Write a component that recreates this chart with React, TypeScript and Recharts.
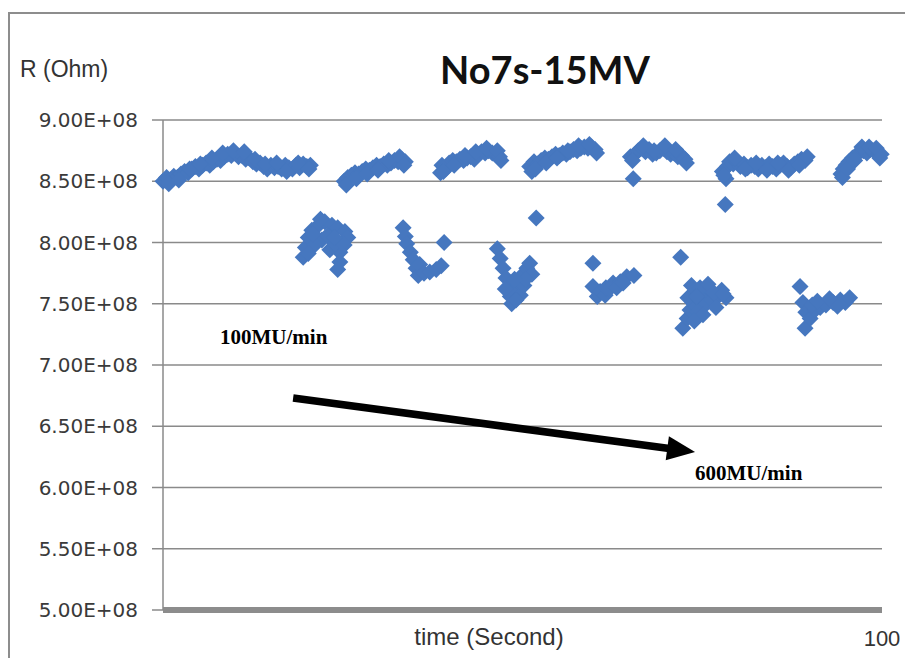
import React from 'react';
import { ScatterChart, Scatter, XAxis, YAxis, CartesianGrid, ReferenceLine } from 'recharts';

// Resistance samples: [time (s), R in units of 1E+08 Ohm]
type Sample = [number, number];

const upperBand: Sample[] = [
  [0.0, 8.50], [0.5, 8.53], [1.0, 8.51], [1.5, 8.54], [2.0, 8.53], [2.5, 8.56], [3.0, 8.58], [3.5, 8.57],
  [4.0, 8.60], [4.5, 8.62], [5.0, 8.60], [5.5, 8.63], [6.0, 8.65], [6.5, 8.63], [7.0, 8.66], [7.5, 8.68],
  [8.0, 8.67], [8.5, 8.70], [9.0, 8.72], [9.5, 8.71], [10.0, 8.73], [10.5, 8.70], [11.0, 8.71], [11.5, 8.68],
  [12.0, 8.69], [12.5, 8.66], [13.0, 8.64], [13.5, 8.65], [14.0, 8.62], [14.5, 8.60], [15.0, 8.63], [15.5, 8.61],
  [16.0, 8.62], [16.5, 8.60], [17.0, 8.63], [17.5, 8.61], [18.0, 8.60], [18.5, 8.63], [19.0, 8.61], [19.5, 8.64],
  [20.0, 8.62], [20.5, 8.63],
  [25.2, 8.50], [25.7, 8.53], [26.2, 8.55], [26.7, 8.57], [27.2, 8.56], [27.7, 8.58], [28.2, 8.60], [28.7, 8.59],
  [29.2, 8.61], [29.7, 8.63], [30.2, 8.62], [30.7, 8.64], [31.2, 8.63], [31.7, 8.65], [32.2, 8.67], [32.7, 8.66],
  [33.2, 8.68], [33.7, 8.66],
  [38.6, 8.57], [38.8, 8.63], [39.3, 8.60], [39.8, 8.65], [40.3, 8.67], [40.8, 8.66], [41.3, 8.68], [41.8, 8.67],
  [42.3, 8.69], [42.8, 8.70], [43.3, 8.68], [43.8, 8.72], [44.3, 8.74], [44.8, 8.73], [45.3, 8.75], [45.8, 8.73],
  [46.3, 8.72], [46.8, 8.70],
  [51.0, 8.62], [51.3, 8.58], [51.6, 8.66], [52.1, 8.64], [52.6, 8.67], [53.1, 8.69], [53.6, 8.68], [54.1, 8.70],
  [54.6, 8.72], [55.1, 8.71], [55.6, 8.73], [56.1, 8.72], [56.6, 8.74], [57.1, 8.76], [57.6, 8.75], [58.1, 8.77],
  [58.6, 8.78], [59.1, 8.77], [59.6, 8.78], [60.1, 8.76],
  [65.0, 8.70], [65.6, 8.72], [66.1, 8.75], [66.6, 8.77], [67.1, 8.74], [67.6, 8.76], [68.1, 8.72], [68.6, 8.73],
  [69.1, 8.75], [69.6, 8.77], [70.1, 8.74], [70.6, 8.72], [71.1, 8.73], [71.6, 8.70], [72.1, 8.71], [72.6, 8.68],
  [77.8, 8.58], [78.3, 8.52], [78.5, 8.62], [78.8, 8.66], [79.3, 8.64], [79.8, 8.66], [80.3, 8.62], [80.8, 8.64],
  [81.3, 8.61], [81.8, 8.63], [82.3, 8.62], [82.8, 8.60], [83.3, 8.63], [83.8, 8.61], [84.3, 8.64], [84.8, 8.62],
  [85.3, 8.60], [85.8, 8.63], [86.3, 8.65], [86.8, 8.62], [87.3, 8.61], [87.8, 8.64], [88.3, 8.66], [88.8, 8.68],
  [89.3, 8.67],
  [94.3, 8.56], [94.6, 8.60], [95.0, 8.63], [95.4, 8.66], [95.9, 8.69], [96.4, 8.71], [96.9, 8.74], [97.4, 8.75],
  [97.9, 8.73], [98.4, 8.76], [98.9, 8.75], [99.4, 8.74], [99.9, 8.72],
];

// Secondary readings that widen the upper band
const upperScatter: Sample[] = [
  [0.8, 8.48], [2.2, 8.51], [3.7, 8.60], [5.2, 8.64], [6.8, 8.69], [8.3, 8.73], [9.8, 8.75], [11.3, 8.74],
  [12.8, 8.68], [14.2, 8.64], [15.8, 8.65], [17.2, 8.58], [18.8, 8.65], [20.3, 8.60],
  [25.5, 8.47], [26.9, 8.52], [28.4, 8.56], [29.9, 8.59], [31.4, 8.67], [32.9, 8.70], [33.5, 8.63],
  [39.0, 8.58], [40.5, 8.63], [42.0, 8.71], [43.5, 8.74], [45.0, 8.77], [46.5, 8.75], [47.0, 8.67],
  [51.8, 8.60], [53.3, 8.65], [54.8, 8.69], [56.3, 8.75], [57.8, 8.79], [59.3, 8.80], [60.3, 8.73],
  [65.3, 8.67], [66.8, 8.79], [68.3, 8.75], [69.8, 8.79], [71.3, 8.76], [72.8, 8.65],
  [78.0, 8.55], [79.5, 8.69], [81.0, 8.60], [82.5, 8.65], [84.0, 8.59], [85.5, 8.65], [87.0, 8.59], [88.5, 8.63],
  [89.6, 8.70],
  [94.5, 8.53], [95.2, 8.60], [96.2, 8.67], [97.2, 8.78], [98.2, 8.78], [99.2, 8.77], [99.7, 8.69],
];

const lowerBand: Sample[] = [
  [19.5, 7.88], [19.8, 7.96], [20.2, 8.04], [20.7, 8.10], [21.6, 8.14], [22.5, 8.17], [23.5, 8.14], [24.3, 8.12],
  [25.3, 8.09], [25.7, 8.04], [25.2, 7.98], [24.6, 7.92], [24.6, 7.84], [24.3, 7.78], [23.2, 7.94], [22.1, 8.02],
  [21.1, 7.98], [20.2, 7.91], [22.9, 8.06], [23.9, 7.99], [21.9, 8.19], [24.9, 8.00], [20.9, 8.07], [23.8, 8.04],
  [33.4, 8.12], [33.7, 8.05], [33.9, 7.99], [34.4, 7.92], [34.8, 7.86], [35.2, 7.79], [35.5, 7.73], [35.7, 7.82],
  [36.3, 7.75], [37.1, 7.76], [38.0, 7.78], [38.7, 7.81],
  [46.5, 7.95], [46.9, 7.87], [47.3, 7.79], [47.7, 7.71], [48.0, 7.63], [48.3, 7.56], [48.5, 7.50], [48.8, 7.61],
  [49.4, 7.68], [49.7, 7.57], [49.9, 7.73], [50.6, 7.79], [51.0, 7.83], [51.3, 7.74], [50.2, 7.65],
  [49.1, 7.53], [50.4, 7.70], [47.6, 7.62], [48.9, 7.70],
  [59.8, 7.64], [60.4, 7.56], [60.8, 7.60], [61.5, 7.57], [61.6, 7.63], [62.6, 7.67], [63.6, 7.68], [64.5, 7.72],
  [65.5, 7.73], [62.1, 7.62], [63.1, 7.63], [64.0, 7.67],
  [72.3, 7.30], [72.9, 7.38], [73.3, 7.45], [73.7, 7.51], [73.0, 7.55], [74.0, 7.60], [74.7, 7.53], [75.4, 7.57],
  [76.1, 7.61], [75.4, 7.49], [76.4, 7.53], [77.2, 7.56], [77.7, 7.61], [78.3, 7.55], [76.9, 7.47], [74.4, 7.43],
  [73.5, 7.65], [74.7, 7.63], [75.8, 7.66], [75.1, 7.41], [76.6, 7.59], [74.2, 7.56], [77.9, 7.58], [73.9, 7.36],
  [89.0, 7.51], [89.4, 7.43], [89.3, 7.30], [90.0, 7.38], [90.7, 7.45], [91.4, 7.47], [92.2, 7.49], [93.2, 7.51],
  [94.2, 7.53], [94.9, 7.51], [95.5, 7.55], [90.3, 7.49], [91.0, 7.52], [93.8, 7.48], [92.7, 7.54],
];

const strayPoints: Sample[] = [
  [51.9, 8.20], [65.4, 8.52], [78.2, 8.31], [39.1, 8.00], [59.8, 7.83], [72.0, 7.88], [88.6, 7.64],
];

const yTicks = [5, 5.5, 6, 6.5, 7, 7.5, 8, 8.5, 9];
const xTicks = [100];

// Dose-rate trend arrow: from 100MU/min to 600MU/min
const trendStart = { t: 18.1, r: 6.73 };
const trendEnd = { t: 74.0, r: 6.29 };

const BLUE = '#4677bf';
const GRID = '#8a8a8a';

const toPoints = (rows: Sample[]) => rows.map(([t, r]) => ({ t, r }));
const samples = [
  ...toPoints(upperBand),
  ...toPoints(upperScatter),
  ...toPoints(lowerBand),
  ...toPoints(strayPoints),
];

const Diamond = (props: any) => {
  const { cx, cy } = props;
  if (cx == null || cy == null) return null;
  const s = 8.5;
  return <path d={`M${cx},${cy - s}L${cx + s},${cy}L${cx},${cy + s}L${cx - s},${cy}Z`} fill={BLUE} />;
};

const Arrow = (props: any) => {
  const { x1, y1, x2, y2 } = props;
  if ([x1, y1, x2, y2].some((v) => v == null)) return null;
  const dx = x2 - x1;
  const dy = y2 - y1;
  const len = Math.hypot(dx, dy);
  const ux = dx / len;
  const uy = dy / len;
  const head = 28;
  const half = 12;
  const bx = x2 - ux * head;
  const by = y2 - uy * head;
  return (
    <g>
      <line x1={x1} y1={y1} x2={bx + ux * 2} y2={by + uy * 2} stroke="#000" strokeWidth={7.5} />
      <polygon
        points={`${x2},${y2} ${bx - uy * half},${by + ux * half} ${bx + uy * half},${by - ux * half}`}
        fill="#000"
      />
    </g>
  );
};

const fmtTick = (v: number) => `${v.toFixed(2)}E+08`;

export default function App() {
  return (
    <div style={{ position: 'fixed', left: 0, top: 0, width: 905, height: 658, overflow: 'hidden', background: '#fff' }}>
      <div
        style={{
          position: 'absolute', left: 8, top: 12, width: 1000, height: 1000,
          borderLeft: '2px solid #8d8d8d', borderTop: '2px solid #8d8d8d', boxSizing: 'border-box',
        }}
      />
      <ScatterChart width={905} height={658} margin={{ top: 120, right: 23, bottom: 0, left: 43 }}>
        <CartesianGrid vertical={false} stroke={GRID} strokeWidth={1.5} />
        <XAxis
          dataKey="t"
          type="number"
          domain={[0, 100]}
          ticks={xTicks}
          tickLine={false}
          tickSize={8}
          tickMargin={12}
          height={48}
          axisLine={{ stroke: '#8c8c8c', strokeWidth: 6 }}
          tick={{ fontSize: 22, fontFamily: 'Liberation Sans', fill: '#333' }}
        />
        <YAxis
          dataKey="r"
          type="number"
          domain={[5, 9]}
          ticks={yTicks}
          tickFormatter={fmtTick}
          width={120}
          tickSize={11}
          tickMargin={14}
          axisLine={{ stroke: GRID, strokeWidth: 1.5 }}
          tickLine={{ stroke: GRID, strokeWidth: 1.5 }}
          tick={{ fontSize: 20, fontFamily: 'DejaVu Sans', fill: '#3a3a3a' }}
        />
        <Scatter data={samples} shape={Diamond} isAnimationActive={false} />
        <ReferenceLine
          segment={[{ x: trendStart.t, y: trendStart.r }, { x: trendEnd.t, y: trendEnd.r }]}
          shape={Arrow}
          ifOverflow="visible"
        />
      </ScatterChart>
      <div style={{ position: 'absolute', left: 545, top: 69, transform: 'translate(-50%, -50%)', fontFamily: 'Lato', fontWeight: 700, fontSize: 38, color: '#111', whiteSpace: 'nowrap' }}>
        No7s-15MV
      </div>
      <div style={{ position: 'absolute', left: 20, top: 69, transform: 'translateY(-50%)', fontFamily: 'Liberation Sans', fontSize: 23, color: '#333', whiteSpace: 'nowrap' }}>
        R (Ohm)
      </div>
      <div style={{ position: 'absolute', left: 489, top: 637, transform: 'translate(-50%, -50%)', fontFamily: 'Liberation Sans', fontSize: 24, color: '#333', whiteSpace: 'nowrap' }}>
        time (Second)
      </div>
      <div style={{ position: 'absolute', left: 220, top: 337, transform: 'translateY(-50%)', fontFamily: 'Liberation Serif', fontWeight: 700, fontSize: 21, color: '#000', whiteSpace: 'nowrap' }}>
        100MU/min
      </div>
      <div style={{ position: 'absolute', left: 695, top: 473, transform: 'translateY(-50%)', fontFamily: 'Liberation Serif', fontWeight: 700, fontSize: 21, color: '#000', whiteSpace: 'nowrap' }}>
        600MU/min
      </div>
    </div>
  );
}
